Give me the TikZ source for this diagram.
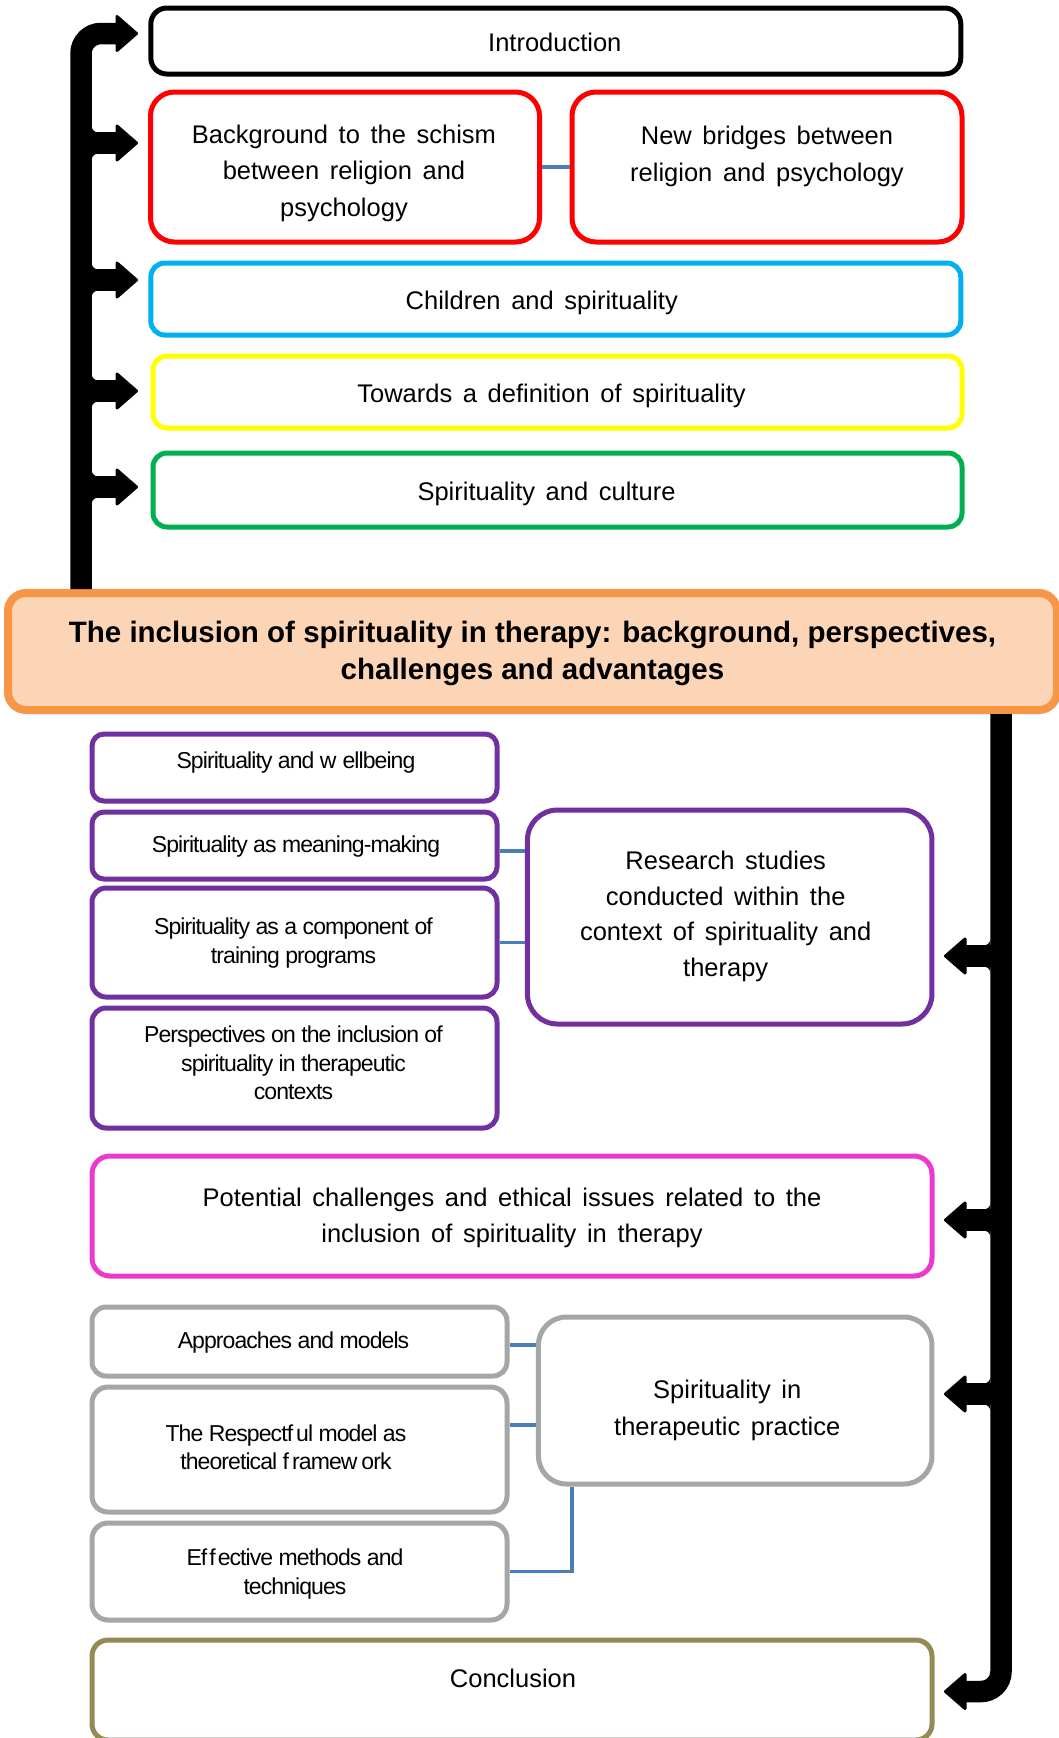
\documentclass[tikz,border=0pt]{standalone}
\usepackage{fontspec}
\setmainfont[WordSpace=1.5]{Liberation Sans}
\newfontfamily\tightfont[LetterSpace=-4]{Liberation Sans}
\newfontfamily\headfont{Liberation Sans}
\usetikzlibrary{calc}

\definecolor{boxred}{HTML}{FF0000}
\definecolor{boxcyan}{HTML}{00B0F0}
\definecolor{boxyellow}{HTML}{FFFF00}
\definecolor{boxgreen}{HTML}{00B050}
\definecolor{titleline}{HTML}{F79646}
\definecolor{titlefill}{HTML}{FBD5B5}
\definecolor{boxpurple}{HTML}{7030A0}
\definecolor{boxpink}{HTML}{E93ACE}
\definecolor{boxgrey}{HTML}{A6A6A6}
\definecolor{boxolive}{HTML}{948A54}
\definecolor{linkblue}{HTML}{4A7EBB}

% text block shifted by (#1 right, #2 up) without changing its footprint
\newcommand\place[3]{\kern#1\raisebox{\dimexpr#2-3pt\relax}[\height][\depth]{\begin{tabular}{@{}c@{}}#3\end{tabular}}\kern-#1\relax}
% concave fillet where an arm meets a trunk: corner (#1,#2), leg directions #3,#4
\newcommand\fillet[4]{\fill ({#1},{#2}) -- ({#1+6*#3},{#2}) .. controls ({#1+2.7*#3},{#2}) and ({#1},{#2+2.7*#4}) .. ({#1},{#2+6*#4}) -- cycle;}

\begin{document}
\begin{tikzpicture}[x=1pt,y=-1pt,
  box/.style={draw=#1, line width=5pt, fill=white, align=center, inner sep=0pt},
  wh/.style 2 args={minimum width=#1pt, minimum height=#2pt},
  main/.style={font=\fontsize{25.5}{36.5}\selectfont},
  small/.style={font=\tightfont\fontsize{23}{28.5}\selectfont},
  titlebox/.style={draw=titleline, fill=titlefill, line width=8pt, rounded corners=18pt,
    align=center, inner sep=0pt, font=\headfont\bfseries\fontsize{29.5}{36.5}\selectfont},
  trunk/.style={draw=black, line width=21.5pt},
  head/.style={fill=black, draw=black, line width=3pt, line join=round},
  link/.style={draw=linkblue, line width=3.5pt}]

\fill[white] (0,0) rectangle (1058,1738);
\useasboundingbox (0,0) rectangle (1058,1738);

% ---- boxes above the title ----
\node[box=black, rounded corners=16pt, wh={810}{66}, main] (intro) at (555.8,41)
  {\place{-1pt}{0pt}{Introduction}};
\node[box=boxred, rounded corners=24pt, wh={389}{150}, main] (bg) at (345,167)
  {\place{-1pt}{-2.5pt}{Background to the schism\\between religion and\\psychology}};
\node[box=boxred, rounded corners=24pt, wh={390}{150}, main] (nb) at (767,167)
  {\place{0pt}{14.5pt}{New bridges between\\religion and psychology}};
\node[box=boxcyan, rounded corners=14pt, wh={810}{72}, main] (kids) at (555.8,299)
  {\place{-14pt}{0pt}{Children and spirituality}};
\node[box=boxyellow, rounded corners=14pt, wh={809}{72}, main] (towards) at (557.5,392)
  {\place{-6pt}{0pt}{Towards a definition of spirituality}};
\node[box=boxgreen, rounded corners=14pt, wh={809}{74}, main] (culture) at (557.5,490)
  {\place{-11pt}{0pt}{Spirituality and culture}};

% ---- central title ----
\node[titlebox, wh={1049}{117}] (title) at (532.5,651.5)
  {\place{0pt}{1pt}{The inclusion of spirituality in therapy: background, perspectives,\\challenges and advantages}};

% ---- research block ----
\node[box=boxpurple, rounded corners=12pt, wh={405}{67}, small] (wb) at (294.5,767.5)
  {\place{1.5pt}{7.5pt}{Spirituality and w\kern6pt ellbeing}};
\node[box=boxpurple, rounded corners=12pt, wh={405}{67}, small] (mm) at (294.5,845.5)
  {\place{1.5pt}{1.5pt}{Spirituality as meaning-making}};
\node[box=boxpurple, rounded corners=14pt, wh={405}{109}, small] (comp) at (294.5,942.5)
  {\place{-1pt}{2pt}{Spirituality as a component of\\training programs}};
\node[box=boxpurple, rounded corners=14pt, wh={405}{120}, small] (persp) at (294.5,1068)
  {\place{-1pt}{5.5pt}{Perspectives on the inclusion of\\spirituality in therapeutic\\contexts}};
\node[box=boxpurple, rounded corners=30pt, wh={404.5}{214},
      font=\fontsize{25.5}{35.4}\selectfont] (research) at (729.7,917)
  {\place{-4pt}{4pt}{Research studies\\conducted within the\\context of spirituality and\\therapy}};

% ---- challenges ----
\node[box=boxpink, rounded corners=18pt, wh={840}{120}, main] (pink) at (512,1216)
  {\place{0pt}{2pt}{Potential challenges and ethical issues related to the\\inclusion of spirituality in therapy}};

% ---- practice block ----
\node[box=boxgrey, rounded corners=14pt, wh={415}{69}, small] (appr) at (299.5,1341.5)
  {\place{-6pt}{2pt}{Approaches and models}};
\node[box=boxgrey, rounded corners=16pt, wh={415}{125}, small] (resp) at (299.5,1449.5)
  {\place{-13.5pt}{2.5pt}{The Respectf\kern3pt ul model as\\theoretical f\kern3pt ramew\kern4pt ork}};
\node[box=boxgrey, rounded corners=16pt, wh={415}{97}, small] (eff) at (299.5,1571.5)
  {\place{-4.5pt}{0pt}{Ef\kern2pt f\kern2pt ective methods and\\techniques}};
\node[box=boxgrey, rounded corners=28pt, wh={393.5}{167}, main] (practice) at (735.2,1400.5)
  {\place{-8pt}{-6pt}{Spirituality in\\therapeutic practice}};

% ---- conclusion ----
\node[box=boxolive, rounded corners=16pt, wh={840}{100}, main] (concl) at (512,1690)
  {\place{1pt}{12.5pt}{Conclusion}};

% ---- thin links between boxes ----
\draw[link] (bg.east) -- (nb.west);
\draw[link] (mm.east |- 0,851) -- (research.west |- 0,851);
\draw[link] (comp.east) -- (research.west |- comp.east);
\draw[link] (appr.east |- 0,1345) -- (practice.west |- 0,1345);
\draw[link] (resp.east |- 0,1425) -- (practice.west |- 0,1425);
\draw[link] (practice.south -| 572,0) |- (eff.east);

% ---- trunk axes and arrow tips ----
\coordinate (L) at (81,0);
\coordinate (R) at (1001,0);
\foreach \n/\y in {1/33.5,2/143,3/280,4/391,5/487} \coordinate (l\n) at (136.5,\y);
\foreach \n/\y in {1/956,2/1220,3/1394,4/1691.5} \coordinate (r\n) at (945.5,\y);

% left trunk: from the title up to the top items
\draw[trunk, rounded corners=20pt] (title.north -| L) -- (L |- l1) -- ($(l1)+(-18,0)$);
\foreach \t in {l2,l3,l4,l5} \draw[trunk] (L |- \t) -- ($(\t)+(-18,0)$);
\foreach \t in {l1,l2,l3,l4,l5}
  \filldraw[head] ($(\t)+(-19.5,-17)$) -- (\t) -- ($(\t)+(-19.5,17)$) -- cycle;
\foreach \y in {143,280,391,487} {\fillet{91.75}{\y-10.75}{1}{-1}\fillet{91.75}{\y+10.75}{1}{1}}

% right trunk: from the title down to the lower items
\draw[trunk, rounded corners=20pt] (title.south -| R) -- (R |- r4) -- ($(r4)+(18,0)$);
\foreach \t in {r1,r2,r3} \draw[trunk] (R |- \t) -- ($(\t)+(18,0)$);
\foreach \t in {r1,r2,r3,r4}
  \filldraw[head] ($(\t)+(19.5,-17)$) -- (\t) -- ($(\t)+(19.5,17)$) -- cycle;
\foreach \y in {956,1220,1394} {\fillet{990.25}{\y-10.75}{-1}{-1}\fillet{990.25}{\y+10.75}{-1}{1}}

\end{tikzpicture}
\end{document}
